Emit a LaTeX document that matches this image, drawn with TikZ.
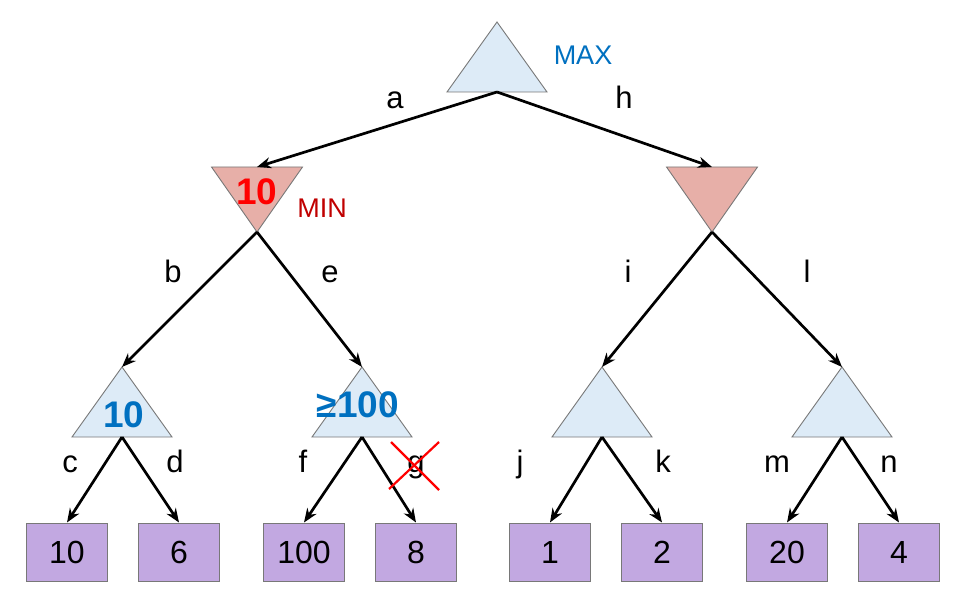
\documentclass[tikz,border=0pt]{standalone}
\usepackage{fontspec}
\setmainfont{Liberation Sans}
\usetikzlibrary{calc,arrows.meta}

\definecolor{maxfill}{RGB}{221,235,247}
\definecolor{minfill}{RGB}{231,175,168}
\definecolor{leaffill}{RGB}{194,168,225}
\definecolor{valblue}{RGB}{0,112,192}
\definecolor{mindark}{RGB}{192,0,0}
\definecolor{edgegray}{RGB}{120,120,120}

% triangle for a max node: name, apex x, apex y
\newcommand{\maxtri}[3]{%
  \draw[maxshape] (#2,#3) -- ++(50,70) -- ++(-100,0) -- cycle;
  \coordinate (#1) at (#2,#3);
  \coordinate (#1b) at (#2,#3+70);}
% triangle for a min node: name, x of middle of top side, y of top side
\newcommand{\mintri}[3]{%
  \draw[minshape] (#2-45.5,#3) -- ++(91,0) -- ++(-45.5,65) -- cycle;
  \coordinate (#1) at (#2,#3);
  \coordinate (#1b) at (#2,#3+65);}

\tikzset{
  maxshape/.style={draw=edgegray, fill=maxfill, line width=0.9pt},
  minshape/.style={draw=edgegray, fill=minfill, line width=0.9pt},
  leaf/.style={draw=edgegray, fill=leaffill, line width=1pt, minimum width=81pt,
    minimum height=58pt, inner sep=0pt, font=\fontsize{32}{34}\selectfont},
  move/.style={-{Stealth[length=14pt,width=11pt]}, line width=2.7pt},
  lbl/.style={anchor=base, inner sep=0pt, font=\fontsize{31}{33}\selectfont},
  val/.style={inner sep=0pt, font=\fontsize{37}{39}\selectfont\bfseries},
  tag/.style={inner sep=0pt, font=\fontsize{27}{29}\selectfont},
  cross/.style={red, line width=2.2pt},
}

\begin{document}
\begin{tikzpicture}[x=1pt,y=-1pt]
	\useasboundingbox (0,0) rectangle (957,601);

	% leaves
	\node[leaf] (l1) at (67,552) {10};
	\node[leaf] (l2) at (179,552) {6};
	\node[leaf] (l3) at (304,552) {100};
	\node[leaf] (l4) at (416,552) {8};
	\node[leaf] (l5) at (550,552) {1};
	\node[leaf] (l6) at (662,552) {2};
	\node[leaf] (l7) at (787,552) {20};
	\node[leaf] (l8) at (899,552) {4};

	% tree nodes
	\maxtri{root}{497}{22}
	\mintri{mnl}{257}{167}
	\mintri{mnr}{712}{167}
	\maxtri{mx1}{122}{367}
	\maxtri{mx2}{362}{367}
	\maxtri{mx3}{602}{367}
	\maxtri{mx4}{842}{367}

	% moves
	\draw[move] (rootb) -- (mnl);
	\draw[move] (rootb) -- (mnr);
	\draw[move] (mnlb) -- (mx1);
	\draw[move] (mnlb) -- (mx2);
	\draw[move] (mnrb) -- (mx3);
	\draw[move] (mnrb) -- (mx4);
	\draw[move] (mx1b) -- (l1.north);
	\draw[move] (mx1b) -- (l2.north);
	\draw[move] (mx2b) -- (l3.north);
	\draw[move] (mx2b) -- (l4.north);
	\draw[move] (mx3b) -- (l5.north);
	\draw[move] (mx3b) -- (l6.north);
	\draw[move] (mx4b) -- (l7.north);
	\draw[move] (mx4b) -- (l8.north);

	% move names
	\node[lbl] (la) at (395,109) {a};
	\node[lbl] (lh) at (624,109) {h};
	\node[lbl] (lb) at (173,283) {b};
	\node[lbl] (le) at (330,283) {e};
	\node[lbl] (li) at (628,283) {i};
	\node[lbl] (ll) at (807,283) {l};
	\node[lbl] (lc) at (70,472) {c};
	\node[lbl] (ld) at (175,472) {d};
	\node[lbl] (lf) at (303,472) {f};
	\node[lbl] (lg) at (416,472) {g};
	\node[lbl] (lj) at (520,472) {j};
	\node[lbl] (lk) at (663,472) {k};
	\node[lbl] (lm) at (777,472) {m};
	\node[lbl] (ln) at (889,472) {n};

	% pruned move
	\draw[cross] ($(lg.base)+(-25,-30)$) -- ($(lg.base)+(23,18)$);
	\draw[cross] ($(lg.base)+(23,-30)$) -- ($(lg.base)+(-27,17)$);

	% values and node kinds
	\node[tag, text=valblue] (maxtag) at (583,55) {MAX};
	\node[tag, text=mindark] (mintag) at (322,208) {MIN};
	\node[val, text=red] (minval) at (257,192) {10};
	\node[val, text=valblue] (val1) at (124,415) {10};
	\node[val, text=valblue] (val2) at (358,405) {≥100};
\end{tikzpicture}
\end{document}
